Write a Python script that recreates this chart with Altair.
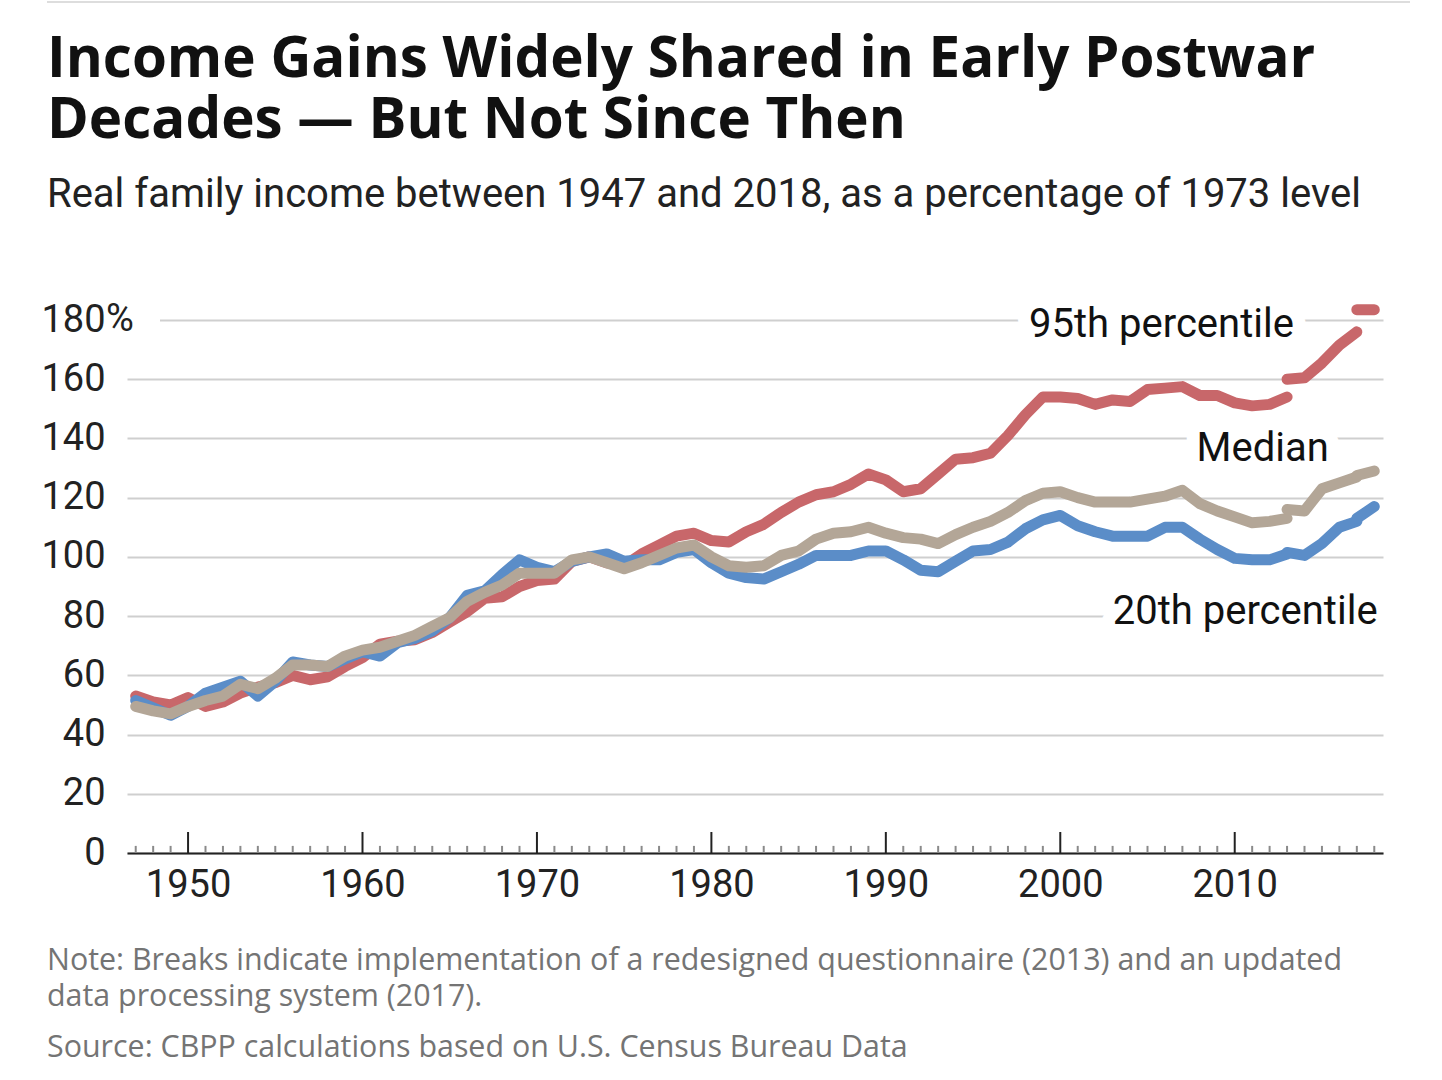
import altair as alt
import pandas as pd

# ---------------- text ----------------
TITLE_1 = "Income Gains Widely Shared in Early Postwar"
TITLE_2 = "Decades \u2014 But Not Since Then"
SUBTITLE = "Real family income between 1947 and 2018, as a percentage of 1973 level"
NOTE_1 = "Note: Breaks indicate implementation of a redesigned questionnaire (2013) and an updated"
NOTE_2 = "data processing system (2017)."
SOURCE = "Source: CBPP calculations based on U.S. Census Bureau Data"

# ---------------- data ----------------
# segment 1: original series 1947-2013, segment 2: redesigned questionnaire 2013-2017,
# segment 3: updated processing system 2017-2018
years_seg1 = list(range(1947, 2014))
years_seg2 = list(range(2013, 2018))
years_seg3 = [2017, 2018]

p95_seg1 = [53, 51, 50, 52.5, 49.5, 51, 54, 56, 57.5, 60,
            58.5, 59.5, 63, 66, 70.5, 71.5, 72, 74.5, 78, 81.5,
            86, 86.5, 90, 92, 92.5, 98.5, 100, 98, 97, 101,
            104, 107, 108, 105.5, 105, 108.5, 111, 115, 118.5, 121,
            122, 124.5, 128, 126, 122, 123, 128, 133, 133.5, 135,
            141, 148, 154, 154, 153.5, 151.5, 153, 152.5, 156.5, 157,
            157.5, 154.5, 154.5, 152, 151, 151.5, 154]
p95_seg2 = [160, 160.5, 165.5, 171.5, 176]
p95_seg3 = [183.5, 183.5]

median_seg1 = [49.5, 48, 47, 49.5, 51.5, 53, 57, 55.5, 59, 63.5,
               63.5, 63, 66.5, 68.5, 69.5, 71.5, 73.5, 76.5, 79.5, 85,
               88, 90.5, 94.5, 94.5, 94.5, 99, 100, 98, 96, 98,
               100.5, 103, 104, 100, 97, 96.5, 97, 100.5, 102, 106,
               108, 108.5, 110, 108, 106.5, 106, 104.5, 107.5, 110, 112,
               115, 119, 121.5, 122, 120, 118.5, 118.5, 118.5, 119.5, 120.5,
               122.5, 118, 115.5, 113.5, 111.5, 112, 113]
median_seg2 = [116, 115.5, 123, 125, 127]
median_seg3 = [127.5, 129]

p20_seg1 = [51.5, 49, 46.5, 49.5, 54, 56, 58, 53, 58, 64.5,
            63.5, 63, 65.5, 68, 66.5, 71, 72.5, 75, 79.5, 87,
            88.5, 94, 99, 96.5, 95, 98.5, 100, 101, 98.5, 99,
            99, 101.5, 102.5, 98, 94.5, 93, 92.5, 95, 97.5, 100.5,
            100.5, 100.5, 102, 102, 99, 95.5, 95, 98.5, 102, 102.5,
            105, 109.5, 112.5, 114, 110.5, 108.5, 107, 107, 107, 110,
            110, 106, 102.5, 99.5, 99, 99, 101]
p20_seg2 = [101.5, 100.5, 104.5, 110, 112]
p20_seg3 = [113, 117]

series_names = ["95th percentile", "20th percentile", "Median"]
series_colors = ["#c8676a", "#5b8dc8", "#b3a697"]
series_segments = [
    [p95_seg1, p95_seg2, p95_seg3],
    [p20_seg1, p20_seg2, p20_seg3],
    [median_seg1, median_seg2, median_seg3],
]
seg_years = [years_seg1, years_seg2, years_seg3]

rows = []
for name, segs in zip(series_names, series_segments):
    for k, (yrs, vals) in enumerate(zip(seg_years, segs)):
        for yr, v in zip(yrs, vals):
            rows.append({"series": name, "segment": f"{name}-{k}", "year": yr, "value": v})
df = pd.DataFrame(rows)

all_years = list(range(1947, 2019))
ticks_df = pd.DataFrame({"year": all_years})

# ---------------- styling ----------------
NARROW = "Roboto, sans-serif"
BOLD = "Open Sans, Lato, sans-serif"
NOTE_FONT = "Open Sans, Lato, sans-serif"
AXIS_SIZE = 38
LABEL_SIZE = 40

x_scale = alt.Scale(domain=[1946.5, 2018.5], nice=False, zero=False)
y_scale = alt.Scale(domain=[0, 180], nice=False, zero=True)

x_axis = alt.Axis(values=[1950, 1960, 1970, 1980, 1990, 2000, 2010], format="d",
                  ticks=False, tickSize=0, grid=False, domain=True,
                  domainColor="#222222", domainWidth=2,
                  labelFont=NARROW, labelFontSize=AXIS_SIZE, labelColor="#222222",
                  labelPadding=13, title=None)
y_axis = alt.Axis(values=list(range(0, 181, 20)), ticks=False, tickSize=0,
                  domain=False, grid=True, gridColor="#cfcfcf", gridWidth=2,
                  labelFont=NARROW, labelFontSize=AXIS_SIZE, labelColor="#222222",
                  labelPadding=22, title=None)


def line_layer(name, color):
    return alt.Chart(df).transform_filter(alt.datum.series == name).mark_line(
        color=color, strokeWidth=11, strokeCap="round", strokeJoin="round", clip=False
    ).encode(
        x=alt.X("year:Q", scale=x_scale, axis=x_axis),
        y=alt.Y("value:Q", scale=y_scale, axis=y_axis),
        detail="segment:N",
    )


def text_px(text, x_px, y_px, size, font, weight="normal", color="#111111"):
    return alt.Chart(pd.DataFrame({"t": [text]})).mark_text(
        align="left", baseline="alphabetic", font=font, fontSize=size,
        fontWeight=weight, color=color
    ).encode(x=alt.value(x_px), y=alt.value(y_px), text="t:N")


def series_label(text, year, value, halo=False):
    props = dict(align="center", baseline="middle", font=NARROW, fontSize=LABEL_SIZE, clip=False)
    if halo:
        props.update(fill="white", stroke="white", strokeWidth=26, strokeJoin="round")
    else:
        props.update(color="#111111")
    return alt.Chart(pd.DataFrame({"t": [text]})).mark_text(**props).encode(
        x=alt.X(datum=year, scale=x_scale),
        y=alt.Y(datum=value, scale=y_scale),
        text="t:N",
    )


pct_sign = alt.Chart(pd.DataFrame({"t": ["%"]})).mark_text(
    align="left", baseline="middle", font=NARROW, fontSize=AXIS_SIZE, color="#222222", clip=False
).encode(x=alt.value(-21), y=alt.Y(datum=180, scale=y_scale), text="t:N")

# white gap in the top gridline behind the "%" sign
pct_gap = alt.Chart(pd.DataFrame({"t": [0]})).mark_rule(color="white", strokeWidth=4).encode(
    x=alt.value(-20), x2=alt.value(33), y=alt.Y(datum=180, scale=y_scale)
)

label_specs = [
    ("95th percentile", 2005.8, 178.3),
    ("Median", 2011.6, 136.4),
    ("20th percentile", 2010.6, 81.4),
]

top_rule = alt.Chart(pd.DataFrame({"t": [0]})).mark_rule(color="#dddddd", strokeWidth=2).encode(
    x=alt.value(-80), x2=alt.value(1283), y=alt.value(-318)
)

major_ticks = alt.Chart(ticks_df).transform_filter("datum.year % 10 == 0").mark_rule(
    color="#222222", strokeWidth=2
).encode(
    x=alt.X("year:Q", scale=x_scale, axis=x_axis),
    y=alt.Y(datum=0, scale=y_scale),
    y2=alt.Y2(datum=7.1),
)
minor_ticks = alt.Chart(ticks_df).transform_filter("datum.year % 10 != 0").mark_rule(
    color="#8a8a8a", strokeWidth=2
).encode(
    x=alt.X("year:Q", scale=x_scale, axis=x_axis),
    y=alt.Y(datum=0, scale=y_scale),
    y2=alt.Y2(datum=2.4),
)

layers = [top_rule, pct_gap]
layers += [series_label(t, yr, v, halo=True) for t, yr, v in label_specs]
layers += [line_layer(n, c) for n, c in zip(series_names, series_colors)]
layers += [major_ticks, minor_ticks]
layers += [series_label(t, yr, v) for t, yr, v in label_specs]
layers += [pct_sign]
layers += [
    text_px(TITLE_1, -80, -243, 56.5, BOLD, "bold", "#111111"),
    text_px(TITLE_2, -80, -182, 56.5, BOLD, "bold", "#111111"),
    text_px(SUBTITLE, -80, -113, 40, NARROW, "normal", "#222222"),
    text_px(NOTE_1, -80, 650, 30.4, NOTE_FONT, "normal", "#747474"),
    text_px(NOTE_2, -80, 686, 30.4, NOTE_FONT, "normal", "#747474"),
    text_px(SOURCE, -80, 737, 30.4, NOTE_FONT, "normal", "#747474"),
]

chart = alt.layer(*layers).properties(
    width=1256,
    height=533,
    autosize=alt.AutoSizeParams(type="none"),
    padding={"left": 127, "top": 320, "right": 59, "bottom": 227},
    background="white",
).configure_view(stroke=None)

chart.save("out.html", embed_options={"renderer": "svg", "actions": False})
